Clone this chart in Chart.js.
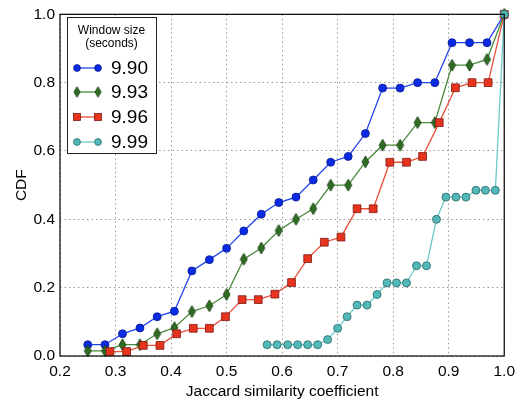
<!DOCTYPE html>
<html>
<head>
<meta charset="utf-8">
<script src="https://cdn.jsdelivr.net/npm/chart.js@4/dist/chart.umd.min.js"></script>
<style>
  html, body { margin: 0; padding: 0; background: #fff; }
  #wrap { width: 521px; height: 402px; }
</style>
</head>
<body>
<div id="wrap"><canvas id="cdf" width="521" height="402"></canvas></div>
<script>
// window sizes (legend labels)
const seriesNames = ['9.90', '9.93', '9.96', '9.99'];

// x positions of each series' points
const x990 = [0.25, 0.281, 0.3125, 0.344, 0.375, 0.406, 0.4375, 0.469, 0.5, 0.531, 0.5625, 0.594, 0.625,
              0.656, 0.6875, 0.719, 0.75, 0.781, 0.8125, 0.844, 0.875, 0.906, 0.9375, 0.969, 1.0];
const x993 = x990;
const x996 = [0.29, 0.32, 0.35, 0.38, 0.41, 0.44, 0.469, 0.498, 0.528, 0.557, 0.587, 0.617, 0.646,
              0.676, 0.706, 0.735, 0.764, 0.794, 0.824, 0.853, 0.883, 0.912, 0.942, 0.971, 1.0];
const x999 = [0.573, 0.591, 0.61, 0.628, 0.646, 0.664, 0.682, 0.70, 0.717, 0.735, 0.753, 0.771, 0.789,
              0.806, 0.824, 0.842, 0.86, 0.878, 0.895, 0.913, 0.931, 0.949, 0.966, 0.984, 1.0];

// CDF values
const y990 = [0.033, 0.033, 0.065, 0.082, 0.115, 0.131, 0.249, 0.282, 0.315, 0.366, 0.415, 0.449, 0.465,
              0.515, 0.567, 0.584, 0.651, 0.784, 0.784, 0.80, 0.80, 0.917, 0.917, 0.917, 1.0];
const y993 = [0.015, 0.015, 0.033, 0.033, 0.065, 0.083, 0.13, 0.147, 0.18, 0.283, 0.316, 0.367, 0.40,
              0.431, 0.50, 0.50, 0.568, 0.617, 0.617, 0.683, 0.683, 0.851, 0.851, 0.868, 1.0];
const y996 = [0.013, 0.013, 0.031, 0.031, 0.065, 0.081, 0.081, 0.115, 0.165, 0.165, 0.181, 0.215, 0.285,
              0.333, 0.348, 0.431, 0.431, 0.567, 0.567, 0.584, 0.683, 0.785, 0.80, 0.80, 1.0];
const y999 = [0.033, 0.033, 0.033, 0.033, 0.033, 0.033, 0.048, 0.081, 0.115, 0.149, 0.149, 0.18, 0.214,
              0.214, 0.214, 0.264, 0.264, 0.40, 0.465, 0.465, 0.465, 0.485, 0.485, 0.485, 1.0];

const xTicks = [0.2, 0.3, 0.4, 0.5, 0.6, 0.7, 0.8, 0.9, 1.0];
const yTicks = [0.0, 0.2, 0.4, 0.6, 0.8, 1.0];

const FONT = '"Liberation Sans", Arial, Helvetica, sans-serif';

// thin diamond marker for the 9.93 series
function thinDiamond(w, h, fill, edge) {
  const c = document.createElement('canvas');
  c.width = w + 2; c.height = h + 2;
  const g = c.getContext('2d');
  g.beginPath();
  g.moveTo(c.width / 2, 1);
  g.lineTo(c.width - 1, c.height / 2);
  g.lineTo(c.width / 2, c.height - 1);
  g.lineTo(1, c.height / 2);
  g.closePath();
  g.fillStyle = fill; g.fill();
  g.lineWidth = 0.8; g.strokeStyle = edge; g.stroke();
  return c;
}
const diamondImg = thinDiamond(7, 12, '#2f6e22', '#173a0f');

function pts(xs, ys) { return xs.map((x, i) => ({x: x, y: ys[i]})); }

const styles = [
  {line: '#2244ee', fill: '#0a2be6', edge: '#0a1a8a', shape: 'circle', r: 4},
  {line: '#4a8a3a', fill: '#2f6e22', edge: '#173a0f', shape: diamondImg, r: 5},
  {line: '#e8503a', fill: '#e8341e', edge: '#7a1a10', shape: 'rect', r: 5.5},
  {line: '#6ccaca', fill: '#52b8b8', edge: '#2a6868', shape: 'circle', r: 4}
];
const xData = [x990, x993, x996, x999];
const yData = [y990, y993, y996, y999];

const datasets = seriesNames.map((name, i) => ({
  label: name,
  data: pts(xData[i], yData[i]),
  borderColor: styles[i].line,
  borderWidth: 1.3,
  pointStyle: styles[i].shape,
  pointRadius: styles[i].r,
  pointBackgroundColor: styles[i].fill,
  pointBorderColor: styles[i].edge,
  pointBorderWidth: 0.8,
  fill: false,
  tension: 0,
  clip: false,
  order: 3 - i
}));

const frameAndLegend = {
  id: 'frameAndLegend',
  afterDraw(chart) {
    const ctx = chart.ctx;
    const a = chart.chartArea;
    ctx.save();
    ctx.strokeStyle = '#000';
    ctx.lineWidth = 1.2;
    ctx.strokeRect(a.left, a.top, a.right - a.left, a.bottom - a.top);

    // legend box
    const bx = 67, by = 17, bw = 89, bh = 136;
    ctx.fillStyle = '#fff';
    ctx.fillRect(bx, by, bw, bh);
    ctx.lineWidth = 1;
    ctx.strokeStyle = '#222';
    ctx.strokeRect(bx + 0.5, by + 0.5, bw, bh);
    ctx.fillStyle = '#000';
    ctx.font = '12px ' + FONT;
    ctx.textAlign = 'center';
    ctx.textBaseline = 'middle';
    ctx.fillText('Window size', bx + bw / 2, 31);
    ctx.fillText('(seconds)', bx + bw / 2, 44);

    const rows = [68, 92, 117, 142];
    seriesNames.forEach((name, i) => {
      const s = styles[i];
      const y = rows[i];
      ctx.strokeStyle = s.line;
      ctx.lineWidth = 1.3;
      ctx.beginPath(); ctx.moveTo(77, y); ctx.lineTo(98, y); ctx.stroke();
      [77, 98].forEach(px => {
        if (s.shape === 'circle') {
          ctx.beginPath(); ctx.arc(px, y, 3.4, 0, Math.PI * 2);
          ctx.fillStyle = s.fill; ctx.fill();
          ctx.lineWidth = 0.8; ctx.strokeStyle = s.edge; ctx.stroke();
        } else if (s.shape === 'rect') {
          ctx.fillStyle = s.fill; ctx.fillRect(px - 3.5, y - 3.5, 7, 7);
          ctx.lineWidth = 0.8; ctx.strokeStyle = s.edge; ctx.strokeRect(px - 3.5, y - 3.5, 7, 7);
        } else {
          const w = s.shape.width * 0.9, h = s.shape.height * 0.9;
          ctx.drawImage(s.shape, px - w / 2, y - h / 2, w, h);
        }
      });
      ctx.fillStyle = '#000';
      ctx.font = '19px ' + FONT;
      ctx.textAlign = 'left';
      ctx.fillText(name, 111, y + 1);
    });
    ctx.restore();
  }
};

new Chart(document.getElementById('cdf'), {
  type: 'line',
  data: {datasets: datasets},
  options: {
    responsive: false,
    animation: false,
    layout: {padding: {left: 0, right: 13, top: 10, bottom: 0}},
    plugins: {legend: {display: false}, tooltip: {enabled: false}},
    scales: {
      x: {
        type: 'linear',
        min: 0.2, max: 1.0,
        afterBuildTicks: axis => { axis.ticks = xTicks.map(v => ({value: v})); },
        afterFit: scale => { scale.height = 46; },
        ticks: {
          callback: v => v.toFixed(1),
          color: '#000',
          font: {family: FONT, size: 15.5},
          padding: 6,
          maxRotation: 0
        },
        grid: {color: '#9a9a9a', lineWidth: 1, drawTicks: false},
        border: {display: false, dash: [1.5, 3]},
        title: {
          display: true,
          text: 'Jaccard similarity coefficient',
          color: '#000',
          font: {family: FONT, size: 15.5},
          padding: {top: 0, bottom: 1}
        }
      },
      y: {
        type: 'linear',
        min: 0, max: 1.0,
        afterBuildTicks: axis => { axis.ticks = yTicks.map(v => ({value: v})); },
        afterFit: scale => { scale.width = 60; },
        ticks: {
          callback: v => v.toFixed(1),
          color: '#000',
          font: {family: FONT, size: 15.5},
          padding: 5
        },
        grid: {color: '#9a9a9a', lineWidth: 1, drawTicks: false},
        border: {display: false, dash: [1.5, 3]},
        title: {
          display: true,
          text: 'CDF',
          color: '#000',
          font: {family: FONT, size: 15.5},
          padding: {top: 12, bottom: 0}
        }
      }
    }
  },
  plugins: [frameAndLegend]
});
</script>
</body>
</html>
